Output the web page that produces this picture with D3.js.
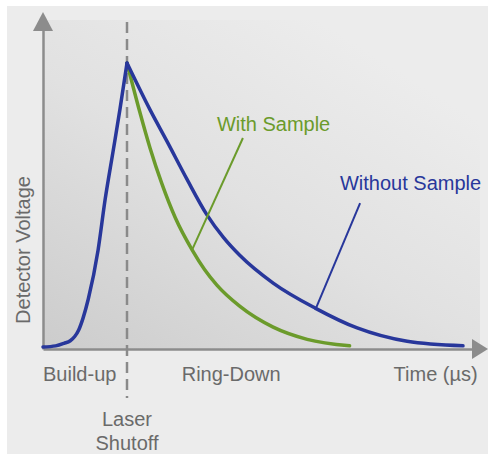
<!DOCTYPE html>
<html>
<head>
<meta charset="utf-8">
<script src="https://cdn.jsdelivr.net/npm/d3@7/dist/d3.min.js"></script>
<style>
  html, body { margin: 0; padding: 0; background: #fff; }
  svg { display: block; }
  text { font-family: "Liberation Sans", Arial, sans-serif; }
</style>
</head>
<body>
<div id="chart"></div>
<script>
// --- data (time in arbitrary units, voltage normalised to peak = 1) ---
var buildUp = [
    [0, 0], [3, 0.004], [5, 0.013], [6.5, 0.022], [7.5, 0.036], [8.5, 0.06],
    [9.5, 0.1], [10.8, 0.17], [13.1, 0.34], [14.8, 0.52],
    [16.7, 0.69], [18.3, 0.835], [20, 1]
];
var ringDownWithout = [
    [20, 1], [25.5, 0.835], [29.5, 0.725], [34.3, 0.59], [39, 0.466],
    [43, 0.385], [46.9, 0.322], [54.8, 0.225], [64.8, 0.137], [74.8, 0.067],
    [86.7, 0.02], [100, 0.004]
];
var ringDownWith = [
    [20, 1], [23, 0.83], [25.5, 0.7], [28.3, 0.575], [31.5, 0.455],
    [35.5, 0.342], [38.5, 0.272], [41.4, 0.218], [46.9, 0.143], [54.8, 0.07],
    [62.9, 0.027], [73, 0.004]
];
var phaseLabels = ["Build-up", "Ring-Down", "Time (µs)"];
var phasePos = [0, 44.8, 103.5];
var shutoffTime = 20;
var shutoffLabel = ["Laser", "Shutoff"];
var yLabel = "Detector Voltage";
// annotation: label anchor, leader start, leader end (data units)
var annotations = [
    { text: "With Sample", series: "with", at: [41.4, 0.761], from: [47.6, 0.736], to: [35.5, 0.342] },
    { text: "Without Sample", series: "without", at: [70.7, 0.553], from: [75.5, 0.507], to: [65, 0.137] }
];

var W = 488, H = 454;
var colors = { with: "#6b9b2b", without: "#28379b", axis: "#8c8c8c", text: "#6a6a6a" };

var x = d3.scaleLinear().domain([0, 100]).range([43, 463]);
var y = d3.scaleLinear().domain([0, 1]).range([347, 63]);

var svg = d3.select("#chart").append("svg").attr("width", W).attr("height", H);

var defs = svg.append("defs");
var grad = defs.append("linearGradient").attr("id", "plotShade")
    .attr("x1", 0).attr("y1", 1).attr("x2", 0.75).attr("y2", 0.1);
grad.append("stop").attr("offset", 0).attr("stop-color", "#cccccc");
grad.append("stop").attr("offset", 0.55).attr("stop-color", "#e1e1e1");
grad.append("stop").attr("offset", 1).attr("stop-color", "#ececec");

// panel
svg.append("rect").attr("x", 7).attr("y", 6).attr("width", W - 7).attr("height", H - 6)
    .attr("fill", "#ececec");
svg.append("rect").attr("x", x(0)).attr("y", 20).attr("width", 480 - x(0)).attr("height", 349 - 20)
    .attr("fill", "url(#plotShade)");

// axes (no ticks, just the domain lines)
var xAxisScale = d3.scaleLinear().domain([0, 1]).range([x(0), 474]);
var yAxisScale = d3.scaleLinear().domain([0, 1]).range([349, 28]);
svg.append("g").attr("transform", "translate(0,349)")
    .call(d3.axisBottom(xAxisScale).tickValues([]).tickSizeOuter(0))
    .call(function (g) { g.select(".domain").attr("stroke", colors.axis).attr("stroke-width", 2.5); });
svg.append("g").attr("transform", "translate(" + x(0) + ",0)")
    .call(d3.axisLeft(yAxisScale).tickValues([]).tickSizeOuter(0))
    .call(function (g) { g.select(".domain").attr("stroke", colors.axis).attr("stroke-width", 2.5); });

// arrow heads
svg.append("path").attr("d", "M472,339L488,349L472,359Z").attr("fill", colors.axis);
svg.append("path").attr("d", "M" + (x(0) - 10) + ",31L" + x(0) + ",12L" + (x(0) + 10) + ",31Z").attr("fill", colors.axis);

// laser shutoff dashed line
svg.append("line").attr("x1", x(shutoffTime)).attr("x2", x(shutoffTime))
    .attr("y1", 22).attr("y2", 398)
    .attr("stroke", "#8a8a8a").attr("stroke-width", 2.5).attr("stroke-dasharray", "11,6");

var line = d3.line().x(function (d) { return x(d[0]); }).y(function (d) { return y(d[1]); })
    .curve(d3.curveMonotoneX);

function curve(data, color) {
    svg.append("path").datum(data).attr("d", line).attr("fill", "none")
        .attr("stroke", color).attr("stroke-width", 3.5)
        .attr("stroke-linecap", "round").attr("stroke-linejoin", "round");
}
curve(ringDownWith, colors.with);
curve(buildUp, colors.without);
curve(ringDownWithout, colors.without);

// annotations
annotations.forEach(function (a) {
    var c = colors[a.series];
    svg.append("line").attr("x1", x(a.from[0])).attr("y1", y(a.from[1]))
        .attr("x2", x(a.to[0])).attr("y2", y(a.to[1]))
        .attr("stroke", c).attr("stroke-width", 2);
    svg.append("text").attr("x", x(a.at[0])).attr("y", y(a.at[1]))
        .attr("fill", c).attr("font-size", 20).text(a.text);
});

// phase labels under the axis
svg.selectAll("text.phase").data(phaseLabels).enter().append("text")
    .attr("class", "phase")
    .attr("x", function (d, i) { return x(phasePos[i]); })
    .attr("y", 381)
    .attr("text-anchor", function (d, i) { return i === 0 ? "start" : i === 1 ? "middle" : "end"; })
    .attr("fill", colors.text).attr("font-size", 20)
    .text(function (d) { return d; });

svg.selectAll("text.shutoff").data(shutoffLabel).enter().append("text")
    .attr("class", "shutoff")
    .attr("x", x(shutoffTime))
    .attr("y", function (d, i) { return 426 + i * 24; })
    .attr("text-anchor", "middle")
    .attr("fill", colors.text).attr("font-size", 20)
    .text(function (d) { return d; });

svg.append("text")
    .attr("transform", "translate(30,250) rotate(-90)")
    .attr("text-anchor", "middle")
    .attr("fill", colors.text).attr("font-size", 20)
    .text(yLabel);
</script>
</body>
</html>
